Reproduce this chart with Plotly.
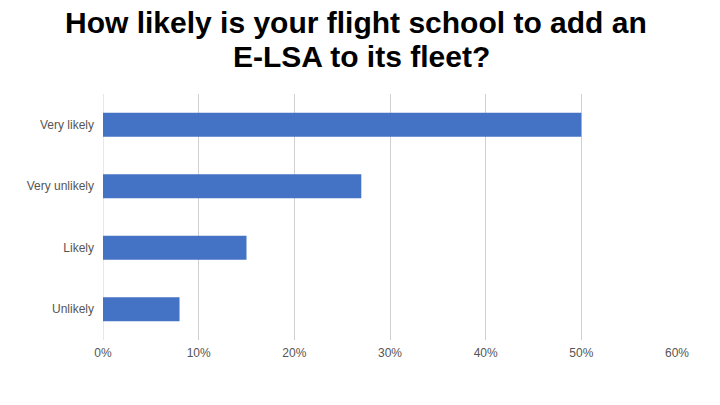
import plotly.graph_objects as go

categories = ["Very likely", "Very unlikely", "Likely", "Unlikely"]
values = [0.50, 0.27, 0.15, 0.08]
tick_vals = [0, 0.1, 0.2, 0.3, 0.4, 0.5, 0.6]
tick_text = ["0%", "10%", "20%", "30%", "40%", "50%", "60%"]
title_lines = ["How likely is your flight school to add an", "E-LSA to its fleet?"]

fig = go.Figure(go.Bar(
    x=values, y=categories, orientation="h",
    marker=dict(color="#4472C4", line=dict(width=0)),
    width=0.39,
))

fig.update_layout(
    width=720, height=405,
    margin=dict(l=103, r=43, t=94, b=65),
    paper_bgcolor="white", plot_bgcolor="white",
    showlegend=False,
    font=dict(family="Liberation Sans, Arial, sans-serif", size=12, color="#555555"),
)
title_font = dict(family="Liberation Sans, Arial, sans-serif", size=30, color="black", weight="bold")
fig.add_annotation(text=title_lines[0], xref="paper", yref="paper", x=0.4399, y=1.2907,
                   xanchor="center", yanchor="middle", showarrow=False, font=title_font)
fig.add_annotation(text=title_lines[1], xref="paper", yref="paper", x=0.4512, y=1.1524,
                   xanchor="center", yanchor="middle", showarrow=False, font=title_font)

fig.update_xaxes(
    range=[0, 0.6], tickvals=tick_vals, ticktext=tick_text,
    showgrid=True, gridcolor="#d0d0d0", gridwidth=1,
    zeroline=False, showline=False, ticks="", ticklabelstandoff=4,
    tickfont=dict(size=12, color="#555555"),
)
fig.update_yaxes(
    categoryorder="array", categoryarray=categories[::-1],
    range=[-0.5, 3.5], showgrid=False, zeroline=False, showline=False,
    ticks="", ticklabelstandoff=8,
    tickfont=dict(size=12, color="#555555"),
)
fig.add_shape(type="line", xref="x", yref="paper", x0=0, x1=0, y0=0, y1=1,
              line=dict(color="#d0d0d0", width=1), layer="below")

fig.write_html("out.html")
